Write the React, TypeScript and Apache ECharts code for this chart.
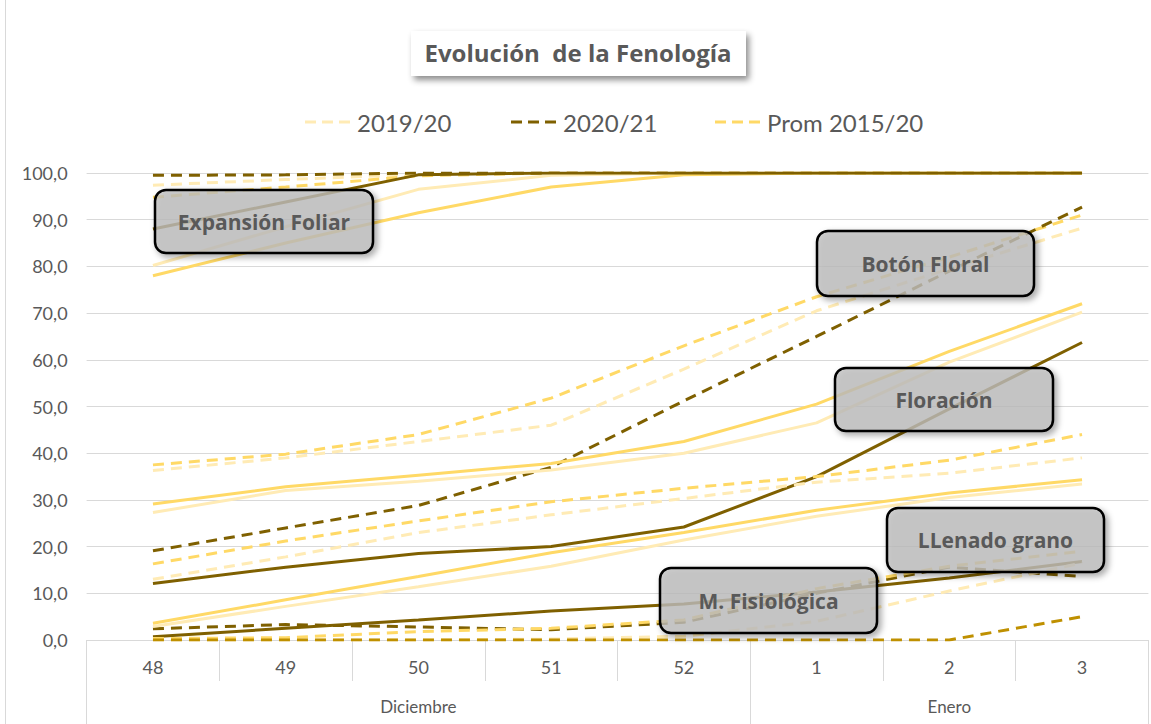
import React, { useEffect, useRef } from "react";
import * as echarts from "echarts";

const weeks = ["48", "49", "50", "51", "52", "1", "2", "3"];
const months = ["", "", "Diciembre", "", "", "", "Enero", ""];
const yTicks = [0, 10, 20, 30, 40, 50, 60, 70, 80, 90, 100];

// Stage A (dashed, top)
const emerg1920 = [97.4, 98.6, 99.7, 100, 100, 100, 100, 100];
const emerg2021 = [99.5, 99.6, 100, 100, 100, 100, 100, 100];
const emergProm = [94.8, 97, 99.4, 100, 100, 100, 100, 100];
// Expansión Foliar (solid)
const exp1920 = [80.2, 88.5, 96.5, 99.5, 100, 100, 100, 100];
const exp2021 = [88, 93.8, 99.6, 100, 100, 100, 100, 100];
const expProm = [78, 85, 91.5, 97, 99.6, 100, 100, 100];
// Botón Floral (dashed)
const bot1920 = [36.3, 39, 42.5, 46, 58, 70.5, 79.5, 88.2];
const bot2021 = [19.1, 24, 28.8, 37, 51.2, 65, 79, 92.7];
const botProm = [37.5, 39.8, 44, 51.8, 63, 73.5, 82, 91];
// Floración (solid)
const flo1920 = [27.3, 32, 34, 36.4, 40, 46.5, 59.5, 70.2];
const flo2021 = [12.1, 15.6, 18.5, 20, 24.2, 35, 49.5, 63.7];
const floProm = [29.1, 32.8, 35.3, 37.8, 42.5, 50.5, 61.8, 72];
// Llenado grano (dashed)
const lle1920 = [13, 17.8, 23, 26.8, 30.3, 33.8, 35.7, 39];
const lle2021 = [2.4, 3.3, 2.8, 2.2, 3.8, 10, 15.6, 13.6];
const lleProm = [16.3, 21.2, 25.5, 29.6, 32.5, 35, 38.5, 44];
// M. Fisiológica (solid)
const mf1920 = [2.9, 7.2, 11.4, 15.8, 21.4, 26.5, 30.5, 33.4];
const mf2021 = [0.7, 2.5, 4.3, 6.2, 7.7, 10.3, 13.3, 16.8];
const mfProm = [3.6, 8.6, 13.6, 18.7, 23, 27.8, 31.5, 34.3];
// Last stage (dashed, bottom)
const last1920 = [0, 0, 0, 0.2, 0.8, 4, 10.5, 16.5];
const last2021 = [0, 0, 0, 0, 0, 0, 0, 5];
const lastProm = [0.3, 0.5, 1.8, 2.5, 4.3, 11, 15.8, 19];

const LIGHT = "#FFEBB5";
const GOLD = "#FFD966";
const DARK = "#7F6000";
const DARKGOLD = "#BF9000";
const TXT = "#595959";
const GRID = "#D9D9D9";
const FONT = "Lato, 'Open Sans', sans-serif";
const BOLDFONT = "'Open Sans', Lato, sans-serif";
const DASH_ICON = "path://M0,0H11V3H0Z M17,0H28V3H17Z M34,0H45V3H34Z";

const stages = [
  { dashed: true, a: emerg1920, b: emerg2021, c: emergProm, darkColor: DARK },
  { dashed: false, a: exp1920, b: exp2021, c: expProm, darkColor: DARK },
  { dashed: true, a: bot1920, b: bot2021, c: botProm, darkColor: DARK },
  { dashed: false, a: flo1920, b: flo2021, c: floProm, darkColor: DARK },
  { dashed: true, a: lle1920, b: lle2021, c: lleProm, darkColor: DARK },
  { dashed: false, a: mf1920, b: mf2021, c: mfProm, darkColor: DARK },
  { dashed: true, a: last1920, b: last2021, c: lastProm, darkColor: DARKGOLD },
];

const labels = [
  { text: "Expansión Foliar", x: 155, y: 190, w: 218, h: 63 },
  { text: "Botón Floral", x: 817, y: 231, w: 217, h: 65 },
  { text: "Floración", x: 835, y: 368, w: 218, h: 63 },
  { text: "LLenado grano", x: 887, y: 508, w: 217, h: 64 },
  { text: "M. Fisiológica", x: 660, y: 568, w: 217, h: 65 },
];

function mkSeries(name: string, data: number[], color: string, dashed: boolean) {
  return {
    name,
    type: "line",
    data,
    symbol: "none",
    smooth: false,
    lineStyle: {
      color,
      width: 3,
      type: dashed ? [11, 7] : "solid",
      cap: "butt",
    },
    itemStyle: { color },
    emphasis: { disabled: true },
  };
}

export default function App() {
  const ref = useRef<HTMLDivElement>(null);
  useEffect(() => {
    document.body.style.margin = "0";
    if (!ref.current) return;
    const chart = echarts.init(ref.current, undefined, { renderer: "svg" });
    const series: any[] = [];
    stages.forEach((s) => {
      series.push(mkSeries("2019/20", s.a, LIGHT, s.dashed));
      series.push(mkSeries("Prom 2015/20", s.c, GOLD, s.dashed));
      series.push(mkSeries("2020/21", s.b, s.darkColor, s.dashed));
    });
    const legendBase = {
      top: 110,
      padding: 0,
      itemWidth: 45,
      itemHeight: 3,
      icon: DASH_ICON,
      selectedMode: false,
      textStyle: { fontSize: 24, fontFamily: FONT, color: TXT, padding: [0, 0, 0, 2] },
    };
    const graphic: any[] = [
      {
        type: "line",
        shape: { x1: 5.5, y1: 0, x2: 5.5, y2: 724 },
        style: { stroke: GRID, lineWidth: 1 },
        z: 1,
      },
      {
        type: "rect",
        shape: { x: 411, y: 31, width: 335, height: 45 },
        style: {
          fill: "#ffffff",
          shadowBlur: 6,
          shadowColor: "rgba(0,0,0,0.45)",
          shadowOffsetX: 3,
          shadowOffsetY: 4,
        },
        z: 10,
      },
      {
        type: "text",
        style: {
          text: "Evolución  de la Fenología",
          x: 578,
          y: 52,
          textAlign: "center",
          textVerticalAlign: "middle",
          font: `bold 24px ${BOLDFONT}`,
          fill: TXT,
        },
        z: 11,
      },
    ];
    labels.forEach((l) => {
      graphic.push({
        type: "rect",
        shape: { x: l.x, y: l.y, width: l.w, height: l.h, r: 11 },
        style: {
          fill: "rgba(192,192,192,0.76)",
          stroke: "#000000",
          lineWidth: 2.5,
          shadowBlur: 6,
          shadowColor: "rgba(0,0,0,0.4)",
          shadowOffsetX: 3,
          shadowOffsetY: 3,
        },
        z: 100,
      });
      graphic.push({
        type: "text",
        style: {
          text: l.text,
          x: l.x + l.w / 2,
          y: l.y + l.h / 2,
          textAlign: "center",
          textVerticalAlign: "middle",
          font: `bold 21px ${BOLDFONT}`,
          fill: TXT,
          shadowBlur: 3,
          shadowColor: "rgba(0,0,0,0.35)",
          shadowOffsetX: 1,
          shadowOffsetY: 1,
        },
        z: 101,
      });
    });

    chart.setOption({
      animation: false,
      backgroundColor: "#ffffff",
      grid: { left: 86.6, right: 2.6, top: 173, bottom: 84, containLabel: false },
      legend: [
        { ...legendBase, left: 305, data: ["2019/20"] },
        { ...legendBase, left: 511, data: ["2020/21"] },
        { ...legendBase, left: 715, data: ["Prom 2015/20"] },
      ],
      xAxis: [
        {
          type: "category",
          data: weeks,
          boundaryGap: true,
          axisLine: { show: true, lineStyle: { color: GRID, width: 1 } },
          axisTick: { show: true, interval: 0, length: 41, lineStyle: { color: GRID } },
          axisLabel: { interval: 0, margin: 18, fontSize: 18, fontFamily: FONT, color: TXT },
          splitLine: { show: false },
        },
        {
          type: "category",
          data: months,
          position: "bottom",
          boundaryGap: true,
          axisLine: { show: false },
          axisTick: {
            show: true,
            interval: (i: number) => i === 0 || i === 5,
            length: 84,
            lineStyle: { color: GRID },
          },
          axisLabel: { interval: 0, margin: 58, fontSize: 17, fontFamily: FONT, color: TXT },
          splitLine: { show: false },
        },
      ],
      yAxis: {
        type: "value",
        min: yTicks[0],
        max: yTicks[yTicks.length - 1],
        interval: 10,
        axisLine: { show: false },
        axisTick: { show: false },
        splitLine: { lineStyle: { color: GRID, width: 1 } },
        axisLabel: {
          margin: 19,
          fontSize: 18,
          fontFamily: FONT,
          color: TXT,
          formatter: (v: number) => v.toFixed(1).replace(".", ","),
        },
      },
      series,
      graphic,
    });
    return () => chart.dispose();
  }, []);
  return <div ref={ref} style={{ width: 1151, height: 724 }} />;
}
